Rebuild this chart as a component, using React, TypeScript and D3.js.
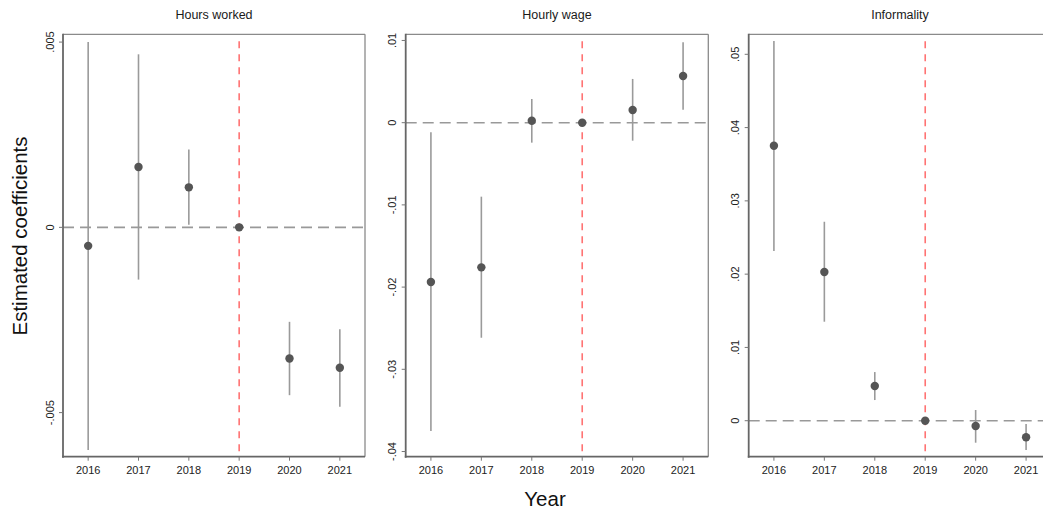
import React from "react";
import * as d3 from "d3";

// Event-study estimates relative to 2019 (reference year)
const years = [2016, 2017, 2018, 2019, 2020, 2021];

const hoursCoef = [-0.0005, 0.00163, 0.00108, 0, -0.00354, -0.00379];
const hoursLow = [-0.00601, -0.00141, 0.00007, 0, -0.00453, -0.00484];
const hoursHigh = [0.005, 0.00467, 0.0021, 0, -0.00255, -0.00275];
const hoursTicks = [-0.005, 0, 0.005];

const wageCoef = [-0.01938, -0.0176, 0.00024, 0, 0.00155, 0.00568];
const wageLow = [-0.0375, -0.02616, -0.00243, 0, -0.00219, 0.00158];
const wageHigh = [-0.00117, -0.009, 0.00288, 0, 0.00532, 0.00978];
const wageTicks = [-0.04, -0.03, -0.02, -0.01, 0, 0.01];

const inforCoef = [0.03752, 0.02029, 0.00473, 0, -0.00072, -0.00226];
const inforLow = [0.02315, 0.01351, 0.00282, 0, -0.003, -0.004];
const inforHigh = [0.0518, 0.02715, 0.00664, 0, 0.00146, -0.00045];
const inforTicks = [0, 0.01, 0.02, 0.03, 0.04, 0.05];

const eventYear = 2019;

type Panel = {
  title: string;
  coef: number[];
  low: number[];
  high: number[];
  ticks: number[];
  domain: [number, number];
  x0: number;
  x1: number;
};

const panels: Panel[] = [
  { title: "Hours worked", coef: hoursCoef, low: hoursLow, high: hoursHigh, ticks: hoursTicks, domain: [-0.00619, 0.00521], x0: 63, x1: 365 },
  { title: "Hourly wage", coef: wageCoef, low: wageLow, high: wageHigh, ticks: wageTicks, domain: [-0.04063, 0.01075], x0: 405.7, x1: 708.3 },
  { title: "Informality", coef: inforCoef, low: inforLow, high: inforHigh, ticks: inforTicks, domain: [-0.00491, 0.05273], x0: 748.7, x1: 1051.3 },
];

const W = 1043;
const H = 514;
const top = 34.3;
const bottom = 456.7;
const font = "'Liberation Sans', Arial, sans-serif";

// Stata-style tick labels: ".005", "-.01", "0"
const fmt = (v: number) => {
  if (Math.abs(v) < 1e-12) return "0";
  const s = String(+v.toFixed(4));
  return s.replace(/^0\./, ".").replace(/^-0\./, "-.");
};

function PanelView({ p }: { p: Panel }) {
  const x = d3.scaleLinear().domain([2015.5, 2021.5]).range([p.x0, p.x1]);
  const y = d3.scaleLinear().domain(p.domain).range([bottom, top]);
  return (
    <g>
      <text x={(p.x0 + p.x1) / 2} y={15} textAnchor="middle" dominantBaseline="central" fontSize={12.5} fill="#1a1a1a" fontFamily={font}>
        {p.title}
      </text>
      {/* reference line at zero */}
      <line x1={p.x0} x2={p.x1} y1={y(0)} y2={y(0)} stroke="#999" strokeWidth={1.6} strokeDasharray="11,6" />
      {/* treatment year */}
      <line x1={x(eventYear)} x2={x(eventYear)} y1={top + 7} y2={bottom} stroke="#ff7373" strokeWidth={1.6} strokeDasharray="7,6" />
      {/* confidence intervals */}
      {years.map((yr, i) => (
        <line key={"ci" + yr} x1={x(yr)} x2={x(yr)} y1={y(p.low[i])} y2={y(p.high[i])} stroke="#9a9a9a" strokeWidth={1.6} />
      ))}
      {/* point estimates */}
      {years.map((yr, i) => (
        <circle key={"pt" + yr} cx={x(yr)} cy={y(p.coef[i])} r={4.2} fill="#555" />
      ))}
      {/* frame */}
      <line x1={p.x0} x2={p.x1} y1={top} y2={top} stroke="#8a8a8a" strokeWidth={1.3} />
      <line x1={p.x1} x2={p.x1} y1={top} y2={bottom} stroke="#8a8a8a" strokeWidth={1.3} />
      <line x1={p.x0} x2={p.x0} y1={top - 0.6} y2={bottom + 1} stroke="#666" strokeWidth={1.8} />
      <line x1={p.x0 - 0.9} x2={p.x1} y1={bottom} y2={bottom} stroke="#666" strokeWidth={1.8} />
      {/* y ticks */}
      {p.ticks.map((t) => (
        <g key={"yt" + t}>
          <line x1={p.x0 - 4} x2={p.x0} y1={y(t)} y2={y(t)} stroke="#777" strokeWidth={1} />
          <text
            transform={`translate(${p.x0 - 13.5},${y(t)}) rotate(-90)`}
            textAnchor="middle"
            dominantBaseline="central"
            fontSize={11}
            fill="#222"
            fontFamily={font}
          >
            {fmt(t)}
          </text>
        </g>
      ))}
      {/* x ticks */}
      {years.map((yr) => (
        <g key={"xt" + yr}>
          <line x1={x(yr)} x2={x(yr)} y1={bottom} y2={bottom + 4} stroke="#777" strokeWidth={1} />
          <text x={x(yr)} y={470} textAnchor="middle" dominantBaseline="central" fontSize={11} fill="#222" fontFamily={font}>
            {yr}
          </text>
        </g>
      ))}
    </g>
  );
}

export default function App() {
  return (
    <svg width={W} height={H} style={{ position: "absolute", left: 0, top: 0, background: "#fff" }}>
      <rect x={0} y={0} width={W} height={H} fill="#fff" />
      {panels.map((p) => (
        <PanelView key={p.title} p={p} />
      ))}
      <text transform="translate(19,236) rotate(-90)" textAnchor="middle" dominantBaseline="central" fontSize={20.5} fill="#111" fontFamily={font}>
        Estimated coefficients
      </text>
      <text x={545} y={498} textAnchor="middle" dominantBaseline="central" fontSize={20.5} fill="#111" fontFamily={font}>
        Year
      </text>
    </svg>
  );
}
